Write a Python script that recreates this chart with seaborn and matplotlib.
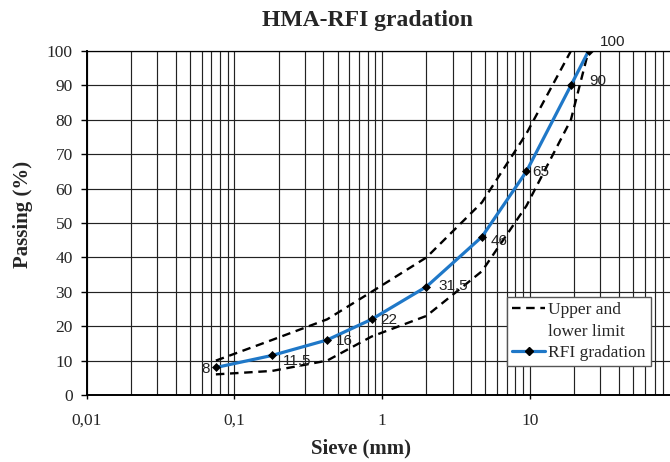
import pandas as pd
import seaborn as sns
import matplotlib
matplotlib.use("Agg")
import matplotlib.pyplot as plt
from matplotlib.lines import Line2D
from matplotlib.ticker import LogLocator, NullFormatter

# sieve sizes (mm) and % passing
sieves = [0.075, 0.18, 0.425, 0.85, 2, 4.75, 9.5, 19, 25]
rfi = [8, 11.5, 16, 22, 31.5, 46, 65, 90, 100]
rfi_labels = ["8", "11,5", "16", "22", "31,5", "46", "65", "90", "100"]
upper_sieves = [0.075, 0.18, 0.425, 0.85, 2, 4.75, 9.5, 19]
upper = [10, 16, 22, 30, 40, 56, 76, 100]
lower = [6, 7, 10, 17, 23, 36, 55, 80, 100]

x_ticks = [0.01, 0.1, 1, 10]
x_ticklabels = ["0,01", "0,1", "1", "10"]
y_ticks = list(range(0, 101, 10))

# label offsets in pixels (dx, dy)
label_offsets = [(-6, -2), (11, -6), (9, -1), (9, -1), (12, 1), (9, -4), (6, -1), (18, 4), (11, 9)]
label_ha = ["right", "left", "left", "left", "left", "left", "left", "left", "left"]

sns.set_style("white")
plt.rcParams["font.family"] = ["Liberation Serif", "DejaVu Serif"]

fig = plt.figure(figsize=(6.7, 4.62), dpi=100)
ax = fig.add_axes([0.1293, 0.145, 0.8818, 0.7446])

df_rfi = pd.DataFrame({"sieve": sieves, "passing": rfi})
df_up = pd.DataFrame({"sieve": upper_sieves, "passing": upper})
df_lo = pd.DataFrame({"sieve": sieves, "passing": lower})

dash = (0, (3.6, 2.4))
sns.lineplot(data=df_up, x="sieve", y="passing", ax=ax, color="black",
             linewidth=1.7, linestyle=dash, zorder=3)
sns.lineplot(data=df_lo, x="sieve", y="passing", ax=ax, color="black",
             linewidth=1.7, linestyle=dash, zorder=3)
sns.lineplot(data=df_rfi, x="sieve", y="passing", ax=ax, color="#1F78C8",
             linewidth=2.3, marker="D", markersize=4.5, markerfacecolor="black",
             markeredgecolor="black", markeredgewidth=0.5, zorder=4)

for sx, val, lab, off, ha in zip(sieves, rfi, rfi_labels, label_offsets, label_ha):
    ax.annotate(lab, (sx, val), xytext=off, textcoords="offset pixels",
                ha=ha, va="center", fontsize=11, family="Liberation Sans",
                color="#222222", zorder=5)

ax.set_xscale("log")
ax.set_xlim(0.01, 100)
ax.set_ylim(0, 100)
ax.set_xticks(x_ticks)
ax.set_xticklabels(x_ticklabels)
ax.xaxis.set_minor_locator(LogLocator(base=10, subs=range(2, 10)))
ax.xaxis.set_minor_formatter(NullFormatter())
ax.set_yticks(y_ticks)

ax.grid(True, which="major", axis="both", color="#222222", linewidth=0.85)
ax.grid(True, which="minor", axis="x", color="#222222", linewidth=0.85)
ax.set_axisbelow(True)

ax.tick_params(axis="x", which="major", direction="out", length=3, width=1,
               pad=10, labelsize=12.5, bottom=True, color="black")
ax.tick_params(axis="x", which="minor", length=0)
ax.tick_params(axis="y", which="major", direction="out", length=4, width=1,
               pad=6, labelsize=12.5, left=True, color="black")

for s in ["left", "bottom"]:
    ax.spines[s].set_color("black")
    ax.spines[s].set_linewidth(1.4)
ax.spines["top"].set_color("black")
ax.spines["top"].set_linewidth(0.9)
ax.spines["right"].set_visible(False)

ax.set_xlabel("Sieve (mm)", fontsize=15, fontweight="bold")
ax.set_ylabel("Passing (%)", fontsize=15, fontweight="bold")
ax.xaxis.set_label_coords(0.4636, -0.125)
ax.yaxis.set_label_coords(-0.0907, 0.525)

fig.text(368 / 670, 1 - 26 / 462, "HMA-RFI gradation", ha="center",
         va="baseline", fontsize=17, fontweight="bold")

handles = [
    Line2D([], [], color="black", linewidth=1.7, linestyle=dash),
    Line2D([], [], color="none"),
    Line2D([], [], color="#1F78C8", linewidth=2.3, marker="D", markersize=4.5,
           markerfacecolor="black", markeredgecolor="black"),
]
leg = ax.legend(handles, ["Upper and", "lower limit", "RFI gradation"],
                loc="upper left", bbox_to_anchor=(0.7116, 0.285),
                borderaxespad=0, fontsize=12.5, handlelength=1.9,
                handletextpad=0.15, labelspacing=0.3, borderpad=0.3,
                frameon=True, fancybox=False, framealpha=1)
leg.get_frame().set_edgecolor("#555555")
leg.get_frame().set_linewidth(1.0)
leg.set_zorder(6)

fig.savefig("out.png", dpi=100)
